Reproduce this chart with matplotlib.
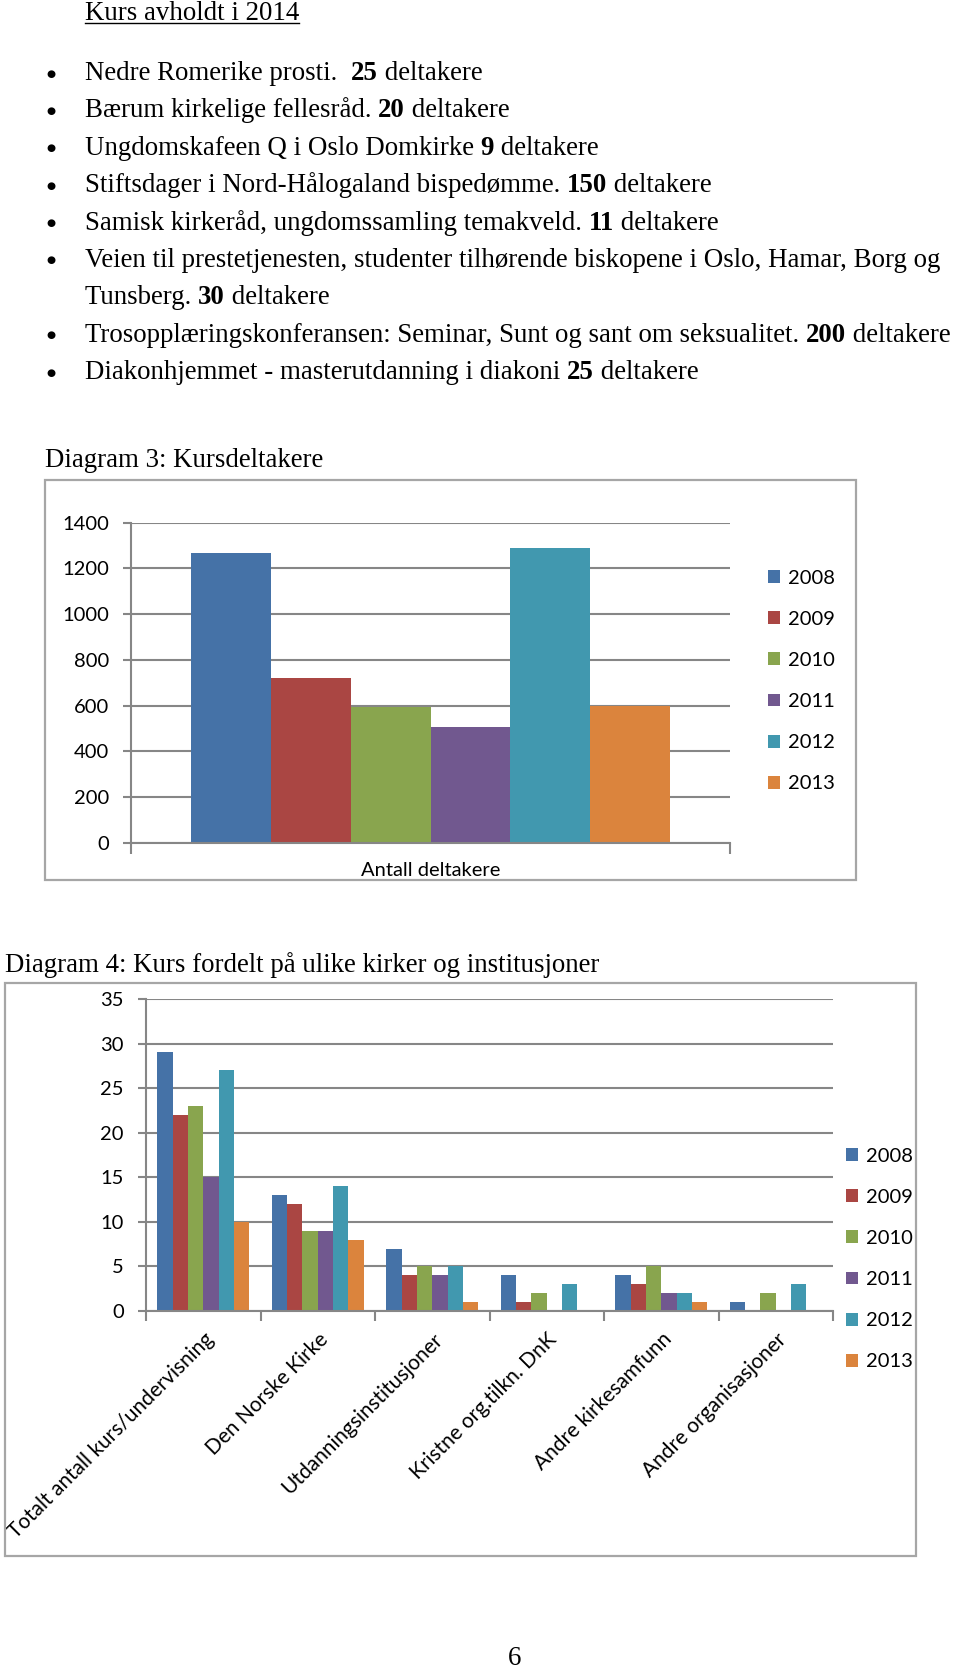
import matplotlib
matplotlib.use("Agg")
import matplotlib.pyplot as plt
from matplotlib.patches import Rectangle
from matplotlib.transforms import ScaledTranslation
import numpy as np

W, H = 960, 1669

# data
years = ["2008", "2009", "2010", "2011", "2012", "2013"]
colors = ["#4572A7", "#AA4643", "#89A54E", "#71588F", "#4198AF", "#DB843D"]

deltakere = [1266, 722, 592, 507, 1290, 599]
deltakere_label = "Antall deltakere"

kategorier = ["Totalt antall kurs/undervisning", "Den Norske Kirke",
              "Utdanningsinstitusjoner", "Kristne org.tilkn. DnK",
              "Andre kirkesamfunn", "Andre organisasjoner"]
kurs_2008 = [29, 13, 7, 4, 4, 1]
kurs_2009 = [22, 12, 4, 1, 3, 0]
kurs_2010 = [23, 9, 5, 2, 5, 2]
kurs_2011 = [15, 9, 4, 0, 2, 0]
kurs_2012 = [27, 14, 5, 3, 2, 3]
kurs_2013 = [10, 8, 1, 0, 1, 0]
kurs = [kurs_2008, kurs_2009, kurs_2010, kurs_2011, kurs_2012, kurs_2013]

# document text (text, bold) runs
heading = "Kurs avholdt i 2014"
bullets = [
    [("Nedre Romerike prosti.  ", False), ("25", True), (" deltakere", False)],
    [("Bærum kirkelige fellesråd. ", False), ("20", True), (" deltakere", False)],
    [("Ungdomskafeen Q i Oslo Domkirke ", False), ("9", True), (" deltakere", False)],
    [("Stiftsdager i Nord-Hålogaland bispedømme. ", False), ("150", True), (" deltakere", False)],
    [("Samisk kirkeråd, ungdomssamling temakveld. ", False), ("11", True), (" deltakere", False)],
    [("Veien til prestetjenesten, studenter tilhørende biskopene i Oslo, Hamar, Borg og", False)],
    [("Tunsberg. ", False), ("30", True), (" deltakere", False)],
    [("Trosopplæringskonferansen: Seminar, Sunt og sant om seksualitet. ", False), ("200", True), (" deltakere", False)],
    [("Diakonhjemmet - masterutdanning i diakoni ", False), ("25", True), (" deltakere", False)],
]
has_bullet = [True, True, True, True, True, True, False, True, True]

SERIF = "Liberation Serif"
SANS = "Lato"
body_size = 19.4
chart_size = 14.5
grid_col = "#868686"

fig = plt.figure(figsize=(W / 100, H / 100), dpi=100)
renderer = fig.canvas.get_renderer()


def fx(px):
    return px / W


def fy(py):
    return 1 - py / H


def text_width(s, bold):
    # width with sentinel so spaces at ends are counted
    t = fig.text(0, 0, s + "x", fontsize=body_size, family=SERIF,
                 fontweight="bold" if bold else "normal")
    t2 = fig.text(0, 0, "x", fontsize=body_size, family=SERIF,
                  fontweight="bold" if bold else "normal")
    w = t.get_window_extent(renderer).width - t2.get_window_extent(renderer).width
    t.remove()
    t2.remove()
    return w


def rich_line(x, y, runs):
    for s, bold in runs:
        fig.text(fx(x), fy(y), s, fontsize=body_size, family=SERIF,
                 fontweight="bold" if bold else "normal", va="baseline")
        x += text_width(s, bold)


# heading with underline
fig.text(fx(85), fy(20), heading, fontsize=body_size, family=SERIF, va="baseline")
hw = text_width(heading, False)
fig.add_artist(plt.Line2D([fx(85), fx(85 + hw)], [fy(23.5), fy(23.5)],
                          color="black", lw=1.0))

y = 80
for runs, b in zip(bullets, has_bullet):
    if b:
        fig.text(fx(51), fy(y - 6.5), "●", fontsize=7.5, family="DejaVu Sans",
                 ha="center", va="center")
    rich_line(85, y, runs)
    y += 37.4

fig.text(fx(45), fy(467), "Diagram 3: Kursdeltakere", fontsize=body_size,
         family=SERIF, va="baseline")
fig.text(fx(5), fy(972), "Diagram 4: Kurs fordelt på ulike kirker og institusjoner",
         fontsize=body_size, family=SERIF, va="baseline")
fig.text(fx(515), fy(1665), "6", fontsize=body_size, family=SERIF,
         ha="center", va="baseline")

# chart frames
for (l, t, r, b) in [(45, 480, 856, 880), (5, 983, 916, 1556)]:
    fig.add_artist(Rectangle((fx(l), fy(b)), (r - l) / W, (b - t) / H,
                             transform=fig.transFigure, fill=False,
                             edgecolor="#A6A6A6", lw=1.6))


def add_axes_px(l, t, r, b):
    return fig.add_axes([fx(l), fy(b), (r - l) / W, (b - t) / H])


def style_axes(ax):
    for s in ["top", "right"]:
        ax.spines[s].set_visible(False)
    for s in ["left", "bottom"]:
        ax.spines[s].set_color(grid_col)
        ax.spines[s].set_linewidth(1.5)
    ax.grid(axis="y", color=grid_col, lw=1.5)
    ax.set_axisbelow(True)
    ax.tick_params(axis="y", length=6, width=1.5, color=grid_col, pad=10,
                   labelsize=chart_size)
    for lab in ax.get_yticklabels():
        lab.set_family(SANS)


legend_kw = dict(frameon=False, prop={"family": SANS, "size": chart_size},
                 handlelength=0.6, handleheight=0.6, handletextpad=0.4,
                 labelspacing=1.2, borderpad=0, borderaxespad=0)

# Diagram 3
ax3 = add_axes_px(131, 522.7, 730, 842.7)
bw = 0.8 / len(years)
for i, (yr, c) in enumerate(zip(years, colors)):
    ax3.bar((i - 2.5) * bw, deltakere[i], width=bw, color=c, label=yr)
ax3.set_xlim(-0.5, 0.5)
ax3.set_ylim(0, 1400)
ax3.set_yticks(np.arange(0, 1401, 200))
ax3.set_xticks([0])
ax3.set_xticklabels([deltakere_label], family=SANS, fontsize=chart_size)
ax3.set_xticks([-0.5, 0.5], minor=True)
ax3.tick_params(axis="x", which="major", length=0, pad=14)
ax3.tick_params(axis="x", which="minor", length=8, width=1.5, color=grid_col)
style_axes(ax3)
ax3.legend(loc="center left", bbox_to_anchor=(fx(768), fy(681)),
           bbox_transform=fig.transFigure, **legend_kw)

# Diagram 4
ax4 = add_axes_px(146, 999, 833, 1311)
x = np.arange(len(kategorier))
for i, (yr, c) in enumerate(zip(years, colors)):
    ax4.bar(x + (i - 2.5) * bw, kurs[i], width=bw, color=c, label=yr)
ax4.set_xlim(-0.5, len(kategorier) - 0.5)
ax4.set_ylim(0, 35)
ax4.set_yticks(np.arange(0, 36, 5))
ax4.set_xticks(x)
ax4.set_xticklabels(kategorier, rotation=45, ha="right", va="top",
                    rotation_mode="anchor", family=SANS, fontsize=15)
shift = ScaledTranslation(-6 / 100, 0, fig.dpi_scale_trans)
for lab in ax4.get_xticklabels():
    lab.set_transform(lab.get_transform() + shift)
ax4.set_xticks(np.arange(-0.5, len(kategorier)), minor=True)
ax4.tick_params(axis="x", which="major", length=0, pad=13)
ax4.tick_params(axis="x", which="minor", length=7, width=1.5, color=grid_col)
style_axes(ax4)
ax4.legend(loc="center left", bbox_to_anchor=(fx(846), fy(1259)),
           bbox_transform=fig.transFigure, **legend_kw)

fig.savefig("out.png", dpi=100)
